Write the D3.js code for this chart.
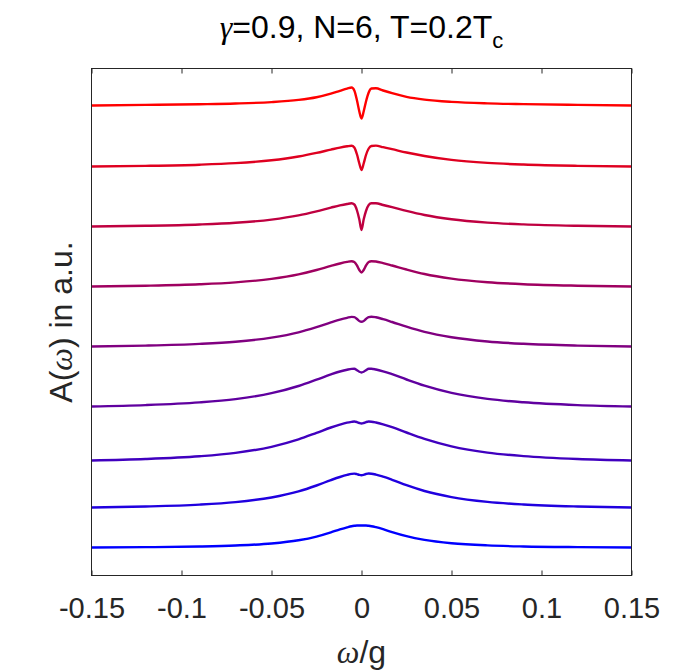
<!DOCTYPE html>
<html>
<head>
<meta charset="utf-8">
<script src="https://cdn.jsdelivr.net/npm/d3@7"></script>
<style>
  body { margin: 0; background: #fff; }
  svg { display: block; }
</style>
</head>
<body>
<div id="chart"></div>
<script>
// frequency samples (omega/g), denser near the dip
const omega = [-0.15, -0.12, -0.09, -0.07, -0.05, -0.035, -0.025, -0.017, -0.012, -0.008, -0.0055, -0.004, -0.0025, -0.0012, 0,
  0.0012, 0.0025, 0.004, 0.0055, 0.008, 0.012, 0.017, 0.025, 0.035, 0.05, 0.07, 0.09, 0.12, 0.15];

// offset of each spectrum (a.u.), top curve first
const baseline = [470, 409, 349, 289, 229, 169, 115, 68, 28];

// A(omega) above its offset, one row per curve (top -> bottom)
const spectra = [
  [0, 0.6, 1.3, 2.0, 3.4, 5.6, 8.3, 11.9, 14.7, 16.9, 18, 15, 5, -6, -13, -6, 4, 13, 17, 17.3, 15, 12.3, 8.7, 5.9, 3.6, 2.1, 1.35, 0.6, 0],
  [0, 0.61, 1.8, 3.35, 6.2, 10, 13.6, 16.9, 18.9, 20.2, 20.8, 19, 12, 3, -3.5, 3, 11.5, 18, 20.5, 20.9, 19.3, 17.3, 14, 10.5, 6.6, 3.6, 1.95, 0.65, 0],
  [0, 0.68, 2.0, 3.7, 6.9, 11.1, 15.2, 18.9, 21.1, 22.5, 23.2, 22, 16, 7, -3.5, 7, 15.5, 21.5, 23.2, 23.3, 21.5, 19.3, 15.6, 11.5, 7.2, 3.9, 2.1, 0.7, 0],
  [0, 0.75, 2.2, 4.1, 7.6, 12.1, 16.5, 20.6, 23, 24.6, 25.3, 24.5, 21, 16.5, 14, 16.5, 21, 24.5, 25.3, 25, 23.4, 21, 17, 12.5, 7.9, 4.3, 2.3, 0.8, 0],
  [0, 0.87, 2.6, 4.8, 8.9, 14.2, 19.4, 24.1, 26.9, 28.7, 29.6, 29.4, 27.5, 25.5, 24.8, 25.5, 27.5, 29.4, 29.8, 29.2, 27.3, 24.5, 19.8, 14.6, 9.2, 5, 2.7, 0.9, 0],
  [0, 1.4, 4.1, 7.4, 13.3, 20.5, 26.8, 32.1, 35, 36.8, 37.6, 37.7, 36.3, 34.7, 34, 34.7, 36.3, 37.7, 37.7, 37, 35.2, 32.3, 27, 20.8, 13.6, 7.6, 4.2, 1.4, 0],
  [0, 1.43, 4.2, 7.6, 13.7, 21.1, 27.6, 33, 35.9, 37.8, 38.6, 39, 38.4, 37.5, 37, 37.5, 38.4, 39, 38.8, 38, 36.2, 33.4, 28, 21.6, 14.2, 7.9, 4.4, 1.5, 0],
  [0, 0.99, 2.9, 5.4, 10, 16.1, 22, 27.4, 30.5, 32.6, 33.6, 33.9, 33.3, 32.6, 32.3, 32.7, 33.5, 34, 33.8, 32.9, 30.8, 27.7, 22.3, 16.5, 10.4, 5.6, 3, 1, 0],
  [0, 0.33, 1.0, 2.0, 4.0, 7.2, 10.9, 15.1, 18.1, 20.2, 21.3, 21.7, 22, 22, 22, 22, 22, 21.7, 21.3, 20.3, 18.3, 15.4, 11.3, 7.6, 4.3, 2.1, 1.05, 0.35, 0]
];

const colors = ["#ff0000", "#df0020", "#bf0040", "#9f0060", "#800080", "#60009f", "#4000bf", "#2000df", "#0000ff"];

const xTicks = [-0.15, -0.1, -0.05, 0, 0.05, 0.1, 0.15];
const yRange = [0, 507];

var width = 699, height = 672;
var margin = {left: 91.5, right: 67.5, top: 68.5, bottom: 96.5};
var font = "'Liberation Sans', Arial, Helvetica, sans-serif";
var greek = "'Liberation Serif', 'DejaVu Serif', serif";

const svg = d3.select("#chart").append("svg")
    .attr("width", width)
    .attr("height", height);

const x = d3.scaleLinear().domain([-0.15, 0.15]).range([margin.left, width - margin.right]);
const y = d3.scaleLinear().domain(yRange).range([height - margin.bottom, margin.top]);

// curves
const line = d3.line()
    .x(d => x(d[0]))
    .y(d => y(d[1]))
    .curve(d3.curveMonotoneX);

svg.append("g")
    .selectAll("path")
    .data(spectra)
    .join("path")
    .attr("fill", "none")
    .attr("stroke", (d, i) => colors[i])
    .attr("stroke-width", 2.4)
    .attr("stroke-linejoin", "round")
    .attr("d", (d, i) => line(d.map((v, j) => [omega[j], baseline[i] + v])));

// axes box
svg.append("rect")
    .attr("x", x(-0.15))
    .attr("y", y(yRange[1]))
    .attr("width", x(0.15) - x(-0.15))
    .attr("height", y(yRange[0]) - y(yRange[1]))
    .attr("fill", "none")
    .attr("stroke", "#262626")
    .attr("stroke-width", 1);

const xAxis = svg.append("g")
    .attr("transform", `translate(0,${y(yRange[0])})`)
    .call(d3.axisBottom(x)
        .tickValues(xTicks)
        .tickSize(-5)
        .tickSizeOuter(0)
        .tickPadding(21.5)
        .tickFormat(d => String(d)));
xAxis.select(".domain").remove();
xAxis.selectAll("line").attr("stroke", "#262626");
xAxis.selectAll("text")
    .attr("fill", "#262626")
    .style("font-family", font)
    .style("font-size", "29px");

const topAxis = svg.append("g")
    .attr("transform", `translate(0,${y(yRange[1])})`)
    .call(d3.axisTop(x).tickValues(xTicks).tickSize(-5).tickSizeOuter(0).tickFormat(""));
topAxis.select(".domain").remove();
topAxis.selectAll("line").attr("stroke", "#262626");

// title
const title = svg.append("text")
    .attr("x", x(0))
    .attr("y", 37.5)
    .attr("text-anchor", "middle")
    .attr("fill", "#000")
    .style("font-family", font)
    .style("font-size", "32px");
title.append("tspan").style("font-family", greek).style("font-style", "italic").text("γ");
title.append("tspan").text("=0.9, N=6, T=0.2T");
title.append("tspan").attr("dy", 10).style("font-size", "22px").text("c");

// x label
const xLabel = svg.append("text")
    .attr("x", x(0))
    .attr("y", 663)
    .attr("text-anchor", "middle")
    .attr("fill", "#262626")
    .style("font-family", font)
    .style("font-size", "32px");
xLabel.append("tspan").style("font-family", greek).style("font-style", "italic").text("ω");
xLabel.append("tspan").text("/g");

// y label
const yLabel = svg.append("text")
    .attr("transform", `translate(72,${(y(yRange[0]) + y(yRange[1])) / 2}) rotate(-90)`)
    .attr("text-anchor", "middle")
    .attr("fill", "#262626")
    .style("font-family", font)
    .style("font-size", "32px");
yLabel.append("tspan").text("A(");
yLabel.append("tspan").style("font-family", greek).style("font-style", "italic").text("ω");
yLabel.append("tspan").text(") in a.u.");
</script>
</body>
</html>
